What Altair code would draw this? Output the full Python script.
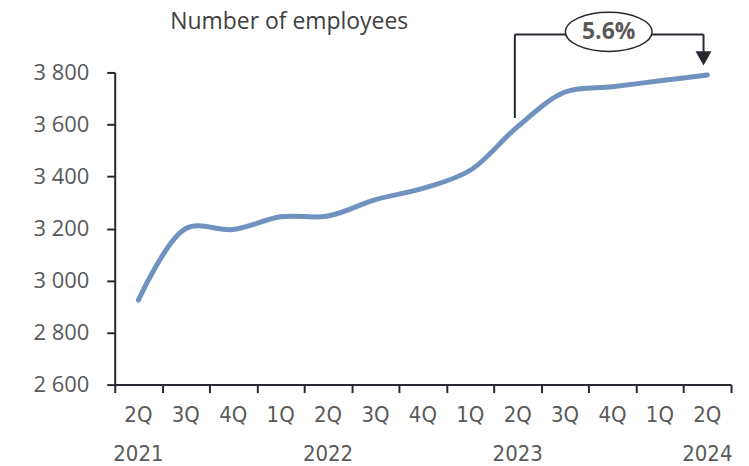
import altair as alt
import pandas as pd

quarters = ["2Q", "3Q", "4Q", "1Q", "2Q", "3Q", "4Q", "1Q", "2Q", "3Q", "4Q", "1Q", "2Q"]
years = ["2021", "", "", "", "2022", "", "", "", "2023", "", "", "", "2024"]
employees = [2925, 3200, 3196, 3245, 3248, 3311, 3354, 3424, 3592, 3725, 3745, 3768, 3790]
growth_label = "5.6%"

df = pd.DataFrame({"i": list(range(len(quarters))), "q": quarters, "yr": years, "v": employees})

W, H = 618, 313
XS = alt.Scale(domain=[-0.5, 12.5], nice=False, zero=False)
YS = alt.Scale(domain=[2600, 3800], nice=False, zero=False)
AX = "#262A30"
LAB = "#595959"
SANS = "'Open Sans', Roboto, 'DejaVu Sans', sans-serif"
NARROW = "'Liberation Sans Narrow', 'DejaVu Sans Condensed', 'Roboto Condensed', sans-serif"

x_axis = alt.Axis(values=[k - 0.5 for k in range(14)], labels=False, tickSize=8, tickColor=AX,
                  domainColor=AX, domainWidth=2, tickWidth=2, grid=False, title=None)
y_axis = alt.Axis(values=list(range(2600, 3801, 200)), labelExpr="replace(format(datum.value, ','), ',', ' ')",
                  tickSize=8, tickColor=AX, domainColor=AX, domainWidth=2, tickWidth=2, grid=False,
                  title=None, labelFont=SANS, labelFontSize=22, labelColor=LAB, labelPadding=18)


def X(f):
    return alt.X(f, scale=XS)


def Y(f):
    return alt.Y(f, scale=YS)


line = alt.Chart(df).mark_line(color="#7092BE", strokeWidth=5, interpolate="catmull-rom", strokeCap="round").encode(
    x=alt.X("i:Q", scale=XS, axis=x_axis),
    y=alt.Y("v:Q", scale=YS, axis=y_axis),
)

qlab = alt.Chart(df).mark_text(font=NARROW, fontSize=22, color=LAB, baseline="middle").encode(
    x=X("i:Q"), y=alt.value(344), text="q:N")
ylab = alt.Chart(df).mark_text(font=NARROW, fontSize=22, color=LAB, baseline="middle").encode(
    x=X("i:Q"), y=alt.value(383), text="yr:N")

# annotation bracket
x0, x1 = 7.94, 11.92
ytop, ystart, yend = 3946, 3625, 3880
seg = pd.DataFrame({"x": [x0, x0, x1], "y": [ystart, ytop, ytop], "x2": [x0, x1, x1], "y2": [ytop, ytop, yend]})
bracket = alt.Chart(seg).mark_rule(color=AX, strokeWidth=2, clip=False).encode(
    x=X("x:Q"), x2="x2:Q", y=Y("y:Q"), y2="y2:Q")

arrow = alt.Chart(pd.DataFrame({"x": [x1], "y": [3854]})).mark_point(
    shape="M -1 -0.9 L 1 -0.9 L 0 0.9 Z", size=256, filled=True, color=AX, opacity=1, clip=False).encode(
    x=X("x:Q"), y=Y("y:Q"))

ell = alt.Chart(pd.DataFrame({"x": [9.92], "y": [3956]})).mark_point(
    shape="M -1 0 A 1 0.45 0 1 0 1 0 A 1 0.45 0 1 0 -1 0 Z", size=87 * 87, filled=True, fill="white",
    stroke=AX, strokeWidth=1.5, opacity=1, clip=False).encode(
    x=X("x:Q"), y=Y("y:Q"))

etext = alt.Chart(pd.DataFrame({"x": [9.92], "y": [3956], "t": [growth_label]})).mark_text(
    font=SANS, fontSize=23, fontWeight="bold", color=LAB, baseline="middle").encode(
    x=X("x:Q"), y=Y("y:Q"), text="t:N")

title = alt.Chart(pd.DataFrame({"t": ["Number of employees"]})).mark_text(
    font=SANS, fontSize=23, color="#404040", baseline="middle", align="center").encode(
    x=alt.value(175), y=alt.value(-51), text="t:N")

chart = alt.layer(line, qlab, ylab, bracket, arrow, ell, etext, title).properties(
    width=W, height=H, autosize=alt.AutoSizeParams(type="none"), background="white",
    padding={"left": 107, "top": 64, "right": 10, "bottom": 80},
).configure_view(strokeWidth=0, stroke="transparent").configure_axis(grid=False)

chart.save("out.html", embed_options={"renderer": "svg", "actions": False})
